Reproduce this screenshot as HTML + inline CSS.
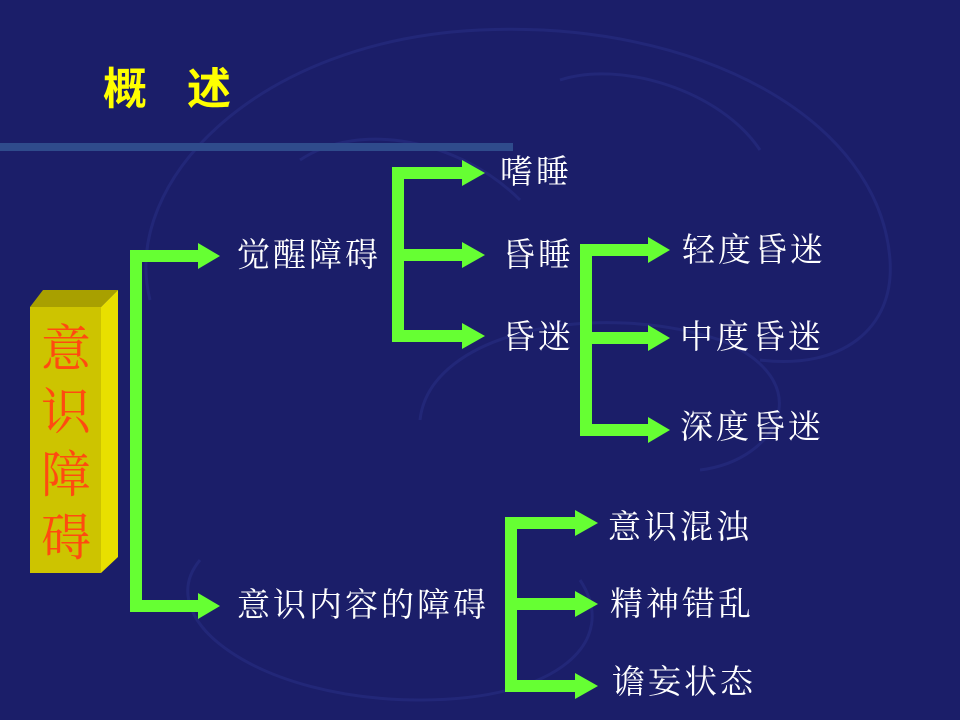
<!DOCTYPE html>
<html><head><meta charset="utf-8"><style>
html,body{margin:0;padding:0;}
body{width:960px;height:720px;background:#1b1e69;position:relative;overflow:hidden;font-family:"Liberation Sans","Noto Sans CJK SC",sans-serif;}
.t{position:absolute;color:#fff;font-size:33px;line-height:34px;letter-spacing:3px;white-space:nowrap;font-family:"Liberation Serif","Noto Serif CJK SC",serif;}
</style></head><body>
<svg width="960" height="720" style="position:absolute;left:0;top:0">
<rect x="0" y="0" width="960" height="720" fill="#1b1e69"/>
<g fill="none" stroke="#23287a" stroke-width="3" opacity="0.9">
<path d="M150 300 C120 180 260 40 480 30 C700 20 880 120 890 260 C895 330 840 370 760 360"/>
<path d="M420 420 C430 330 600 300 720 340 C820 380 780 460 700 470"/>
<path d="M200 560 C150 620 260 700 420 700 C560 700 620 640 580 580"/>
<path d="M300 160 C360 120 460 140 520 200 M560 80 C620 60 720 90 760 150"/>
</g>
<rect x="0" y="143" width="513" height="8" fill="#2f4b8c"/>
<g fill="#66ff33">
<rect x="130" y="250" width="12" height="362"/>
<rect x="130" y="250" width="70" height="12"/><polygon points="198,243 220,256 198,269"/>
<rect x="130" y="600" width="70" height="12"/><polygon points="198,593 220,606 198,619"/>
<rect x="392" y="167" width="12" height="175"/>
<rect x="392" y="167" width="72" height="12"/><polygon points="462,160 485,173 462,186"/>
<rect x="392" y="249" width="72" height="12"/><polygon points="462,242 485,255 462,268"/>
<rect x="392" y="330" width="72" height="12"/><polygon points="462,323 485,336 462,349"/>
<rect x="580" y="244" width="12" height="192"/>
<rect x="580" y="244" width="70" height="12"/><polygon points="648,237 670,250 648,263"/>
<rect x="580" y="332" width="70" height="12"/><polygon points="648,325 670,338 648,351"/>
<rect x="580" y="424" width="70" height="12"/><polygon points="648,417 670,430 648,443"/>
<rect x="505" y="517" width="12" height="175"/>
<rect x="505" y="517" width="72" height="12"/><polygon points="575,510 598,523 575,536"/>
<rect x="505" y="598" width="72" height="12"/><polygon points="575,591 598,604 575,617"/>
<rect x="505" y="680" width="72" height="12"/><polygon points="575,673 598,686 575,699"/>
</g>
<polygon points="30,307 43,290 118,290 101,307" fill="#a8a000"/>
<polygon points="101,307 118,290 118,557 101,573" fill="#e8e000"/>
<rect x="30" y="307" width="71" height="266" fill="#cdc400"/>
</svg>
<div style="position:absolute;left:103px;top:67px;font-size:44px;font-weight:bold;color:#ffff00;line-height:46px;white-space:nowrap;font-family:'Liberation Sans','Noto Sans CJK SC',sans-serif">概<span style="display:inline-block;width:40px"></span>述</div>
<div style="position:absolute;left:36px;top:318px;width:60px;font-size:50px;line-height:63px;color:#ff4a10;text-align:center;font-family:'Liberation Serif','Noto Serif CJK SC',serif">意<br>识<br>障<br>碍</div>
<div class="t" style="left:237px;top:239px">觉醒障碍</div>
<div class="t" style="left:237px;top:589px">意识内容的障碍</div>
<div class="t" style="left:500px;top:156px">嗜睡</div>
<div class="t" style="left:502px;top:239px">昏睡</div>
<div class="t" style="left:502px;top:321px">昏迷</div>
<div class="t" style="left:682px;top:234px">轻度昏迷</div>
<div class="t" style="left:680px;top:321px">中度昏迷</div>
<div class="t" style="left:680px;top:411px">深度昏迷</div>
<div class="t" style="left:608px;top:511px">意识混浊</div>
<div class="t" style="left:610px;top:588px">精神错乱</div>
<div class="t" style="left:612px;top:666px">谵妄状态</div>
</body></html>
